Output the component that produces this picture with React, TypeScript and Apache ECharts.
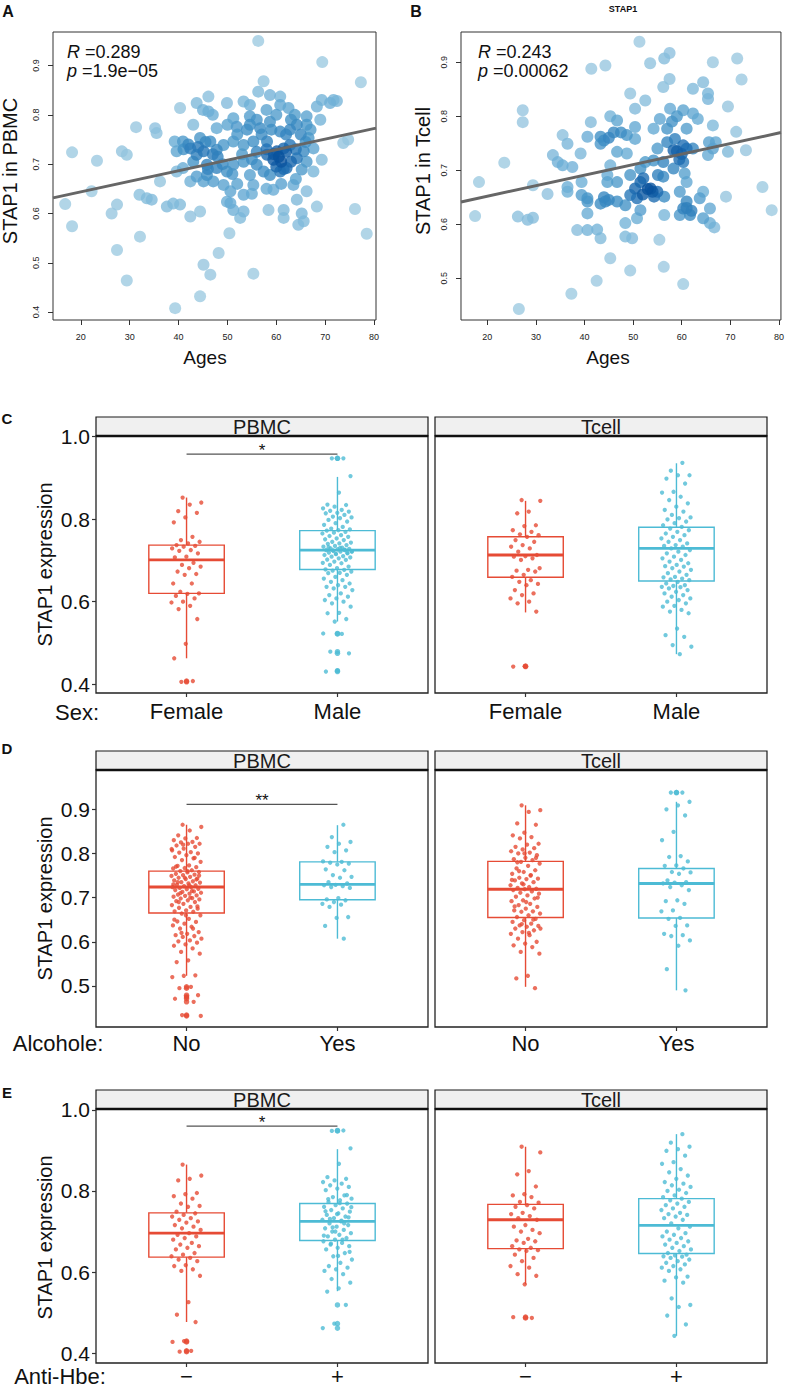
import React, { useEffect, useRef } from "react";
import * as echarts from "echarts";

const FONT = "'Liberation Sans', Arial, Helvetica, sans-serif";
const RED = "#E64B35";
const CYAN = "#4DBBD5";

// ---------- Panel A: STAP1 in PBMC vs age ----------
const pbmcAgePoints: [number, number][] = [
  [56.3,0.950],[69.4,0.907],[77.3,0.866],[57.4,0.868],[56.3,0.847],[58.7,0.840],[60.8,0.837],[49.9,0.824],[53.3,0.827],[46.1,0.837],
  [43.7,0.824],[40.3,0.814],[46.1,0.807],[69.3,0.830],[71.7,0.830],[72.4,0.828],[68.3,0.817],[62.5,0.814],[63.8,0.800],[66.2,0.797],
  [54.6,0.797],[51.2,0.793],[51.9,0.776],[54.6,0.780],[56.7,0.773],[58.7,0.786],[60.8,0.766],[64.2,0.780],[66.2,0.780],[47.8,0.773],
  [43.0,0.780],[31.3,0.775],[35.2,0.773],[35.5,0.763],[44.4,0.753],[46.5,0.746],[49.2,0.739],[40.9,0.746],[39.2,0.746],[39.6,0.726],
  [42.4,0.732],[45.1,0.726],[47.8,0.729],[43.7,0.719],[51.2,0.746],[53.3,0.739],[55.3,0.746],[58.1,0.746],[60.1,0.726],[61.5,0.732],
  [62.8,0.739],[65.6,0.726],[67.6,0.732],[66.6,0.753],[73.7,0.743],[74.7,0.750],[69.3,0.709],[66.2,0.705],[64.2,0.712],[62.1,0.692],
  [59.4,0.709],[58.1,0.719],[56.0,0.699],[57.4,0.685],[60.8,0.685],[58.7,0.678],[65.2,0.689],[67.6,0.685],[63.5,0.658],[66.2,0.645],
  [64.2,0.628],[68.3,0.614],[65.2,0.600],[61.5,0.607],[61.5,0.591],[64.5,0.577],[65.6,0.584],[58.4,0.607],[59.4,0.648],[55.3,0.658],
  [53.3,0.638],[50.6,0.645],[49.2,0.658],[47.1,0.665],[45.1,0.665],[49.9,0.624],[51.2,0.607],[53.3,0.604],[52.6,0.591],[50.6,0.621],
  [47.8,0.692],[49.9,0.685],[51.2,0.699],[53.3,0.705],[45.8,0.699],[40.9,0.692],[39.6,0.685],[42.4,0.665],[36.2,0.665],[32.0,0.638],
  [33.5,0.631],[34.5,0.628],[37.6,0.614],[40.3,0.618],[42.4,0.594],[44.4,0.604],[38.9,0.620],[27.4,0.618],[26.3,0.600],[22.2,0.645],
  [23.3,0.707],[18.2,0.724],[28.4,0.726],[29.4,0.719],[16.8,0.619],[18.2,0.574],[32.1,0.553],[27.4,0.526],[29.4,0.464],[45.1,0.496],
  [46.5,0.476],[48.2,0.520],[44.4,0.432],[39.3,0.408],[55.3,0.478],[50.4,0.560],[76.1,0.609],[78.5,0.559],[54.6,0.820],[60.8,0.820],
  [62.8,0.770],[54.6,0.678],[43.7,0.675],[45.8,0.678],[71.0,0.824],
  [44.0,0.735],[45.5,0.745],[47.0,0.720],[48.0,0.715],[41.0,0.730],[42.0,0.740],[60.5,0.715],[61.0,0.705],[62.0,0.725],[59.5,0.720],
  [60.0,0.695],[61.5,0.690],[58.0,0.730],[56.0,0.725],[52.0,0.760],[54.0,0.770],[56.0,0.790],[58.0,0.810],[60.0,0.800],[63.0,0.790],
  [65.0,0.760],[66.0,0.745],[50.0,0.780],[47.0,0.800],[45.0,0.810],[53.0,0.720],[55.0,0.710],[57.0,0.760],[59.0,0.770],[64.0,0.730],
  [63.0,0.705],[49.0,0.700],[51.0,0.680],[46.0,0.690],[43.0,0.705],[61.0,0.660],[58.0,0.650],[55.0,0.640],[52.0,0.660],[64.0,0.670],
  [67.0,0.770],[69.0,0.790],[62.0,0.760],
];
const pbmcFit = { intercept: 0.601, slope: 0.00214 };
const pbmcCorr = { r: "0.289", p: "1.9e\u221205" };

// ---------- Panel B: STAP1 in Tcell vs age ----------
const tcellAgePoints: [number, number][] = [
  [51.3,0.938],[56.4,0.907],[57.5,0.917],[53.5,0.898],[66.4,0.900],[71.4,0.907],[72.3,0.868],[41.4,0.888],[44.3,0.894],[57.5,0.869],
  [56.2,0.854],[64.4,0.863],[62.3,0.851],[65.4,0.842],[65.4,0.832],[49.4,0.842],[52.5,0.829],[50.4,0.814],[27.3,0.811],[27.3,0.789],
  [41.3,0.789],[69.5,0.818],[71.2,0.771],[73.2,0.737],[45.3,0.800],[46.7,0.792],[43.3,0.762],[43.3,0.749],[40.6,0.762],[39.2,0.731],
  [35.5,0.765],[36.5,0.749],[33.5,0.728],[34.5,0.715],[35.5,0.709],[37.5,0.706],[23.5,0.714],[18.3,0.678],[17.5,0.615],[29.4,0.672],
  [32.4,0.656],[36.5,0.669],[36.5,0.660],[39.4,0.678],[39.4,0.654],[40.6,0.648],[40.6,0.620],[26.3,0.614],[28.3,0.608],[29.4,0.612],
  [38.5,0.589],[40.6,0.589],[42.6,0.590],[43.3,0.574],[45.3,0.537],[42.5,0.495],[37.3,0.471],[26.5,0.443],[49.4,0.514],[56.3,0.521],
  [60.3,0.489],[55.4,0.571],[48.4,0.577],[49.8,0.574],[48.4,0.602],[50.8,0.611],[51.5,0.626],[56.4,0.617],[49.4,0.654],[50.8,0.648],
  [44.3,0.642],[46.7,0.642],[48.4,0.635],[53.6,0.666],[55.0,0.660],[54.3,0.651],[56.4,0.651],[51.5,0.678],[52.1,0.685],[49.4,0.691],
  [45.3,0.709],[44.7,0.678],[46.7,0.678],[46.7,0.734],[48.7,0.731],[50.4,0.758],[50.4,0.780],[48.7,0.765],[54.2,0.777],[55.5,0.795],
  [57.6,0.814],[60.3,0.811],[61.0,0.777],[62.3,0.805],[63.3,0.795],[66.4,0.783],[58.6,0.758],[60.3,0.746],[58.3,0.737],[57.0,0.752],
  [55.0,0.740],[54.2,0.718],[52.5,0.715],[56.2,0.715],[60.3,0.715],[58.3,0.703],[60.6,0.694],[61.0,0.678],[59.6,0.660],[62.3,0.740],
  [65.6,0.752],[67.0,0.752],[65.4,0.728],[69.5,0.734],[66.4,0.740],[69.1,0.651],[76.6,0.669],[78.5,0.626],[64.4,0.660],[63.7,0.648],
  [65.8,0.629],[61.0,0.642],[60.3,0.629],[61.7,0.617],[59.6,0.617],[64.4,0.611],[65.8,0.602],[66.7,0.594],[43.3,0.638],[40.6,0.642],
  [56.2,0.688],[44.7,0.691],[57.0,0.777],[51.5,0.703],[50.4,0.666],[55.1,0.691],
  [44.0,0.755],[45.0,0.760],[46.0,0.770],[47.5,0.770],[52.0,0.655],[53.0,0.665],[54.0,0.660],[59.0,0.735],[60.0,0.730],[61.0,0.740],
  [59.5,0.720],[44.0,0.650],[45.0,0.645],[62.0,0.625],[61.0,0.630],[58.0,0.790],[59.0,0.800],
];
const tcellFit = { intercept: 0.6127, slope: 0.001953 };
const tcellCorr = { r: "0.243", p: "0.00062" };

const ageTicks = [20, 30, 40, 50, 60, 70, 80];
const scatterYTicks = [0.4, 0.5, 0.6, 0.7, 0.8, 0.9];

// ---------- Panel C: Sex ----------
const sexGroups = ["Female", "Male"];
const sexPbmcFemale = [0.852,0.840,0.835,0.819,0.815,0.804,0.792,0.757,0.749,0.745,0.741,0.737,0.735,0.733,0.729,0.725,0.723,0.717,0.709,0.707,0.694,0.689,0.685,0.681,0.673,0.667,0.665,0.644,0.644,0.624,0.620,0.619,0.614,0.608,0.600,0.598,0.590,0.582,0.558,0.498,0.463,0.408,0.406];
const sexPbmcMale = [0.947,0.947,0.904,0.864,0.835,0.834,0.830,0.826,0.822,0.820,0.818,0.815,0.814,0.810,0.806,0.804,0.802,0.798,0.794,0.790,0.786,0.781,0.777,0.775,0.773,0.772,0.769,0.767,0.765,0.761,0.759,0.757,0.753,0.751,0.749,0.745,0.743,0.741,0.740,0.737,0.735,0.733,0.731,0.729,0.728,0.727,0.725,0.725,0.723,0.721,0.721,0.719,0.717,0.715,0.713,0.710,0.709,0.707,0.705,0.702,0.701,0.697,0.694,0.693,0.689,0.685,0.681,0.678,0.677,0.675,0.673,0.670,0.669,0.665,0.660,0.656,0.652,0.648,0.644,0.640,0.636,0.636,0.632,0.628,0.620,0.616,0.612,0.608,0.604,0.600,0.596,0.588,0.573,0.572,0.558,0.552,0.523,0.522,0.479,0.475,0.433,0.431,0.726,0.724,0.722,0.730,0.732,0.718,0.716];
const sexTcellFemale = [0.846,0.844,0.818,0.814,0.785,0.783,0.773,0.769,0.763,0.761,0.757,0.749,0.745,0.737,0.733,0.729,0.721,0.713,0.710,0.709,0.705,0.701,0.681,0.677,0.675,0.673,0.665,0.660,0.652,0.648,0.643,0.640,0.628,0.620,0.616,0.608,0.600,0.596,0.576,0.444,0.443];
const sexTcellMale = [0.936,0.917,0.906,0.906,0.898,0.886,0.866,0.864,0.854,0.846,0.838,0.830,0.822,0.818,0.810,0.804,0.802,0.799,0.794,0.790,0.785,0.781,0.777,0.773,0.769,0.765,0.761,0.757,0.753,0.749,0.745,0.741,0.737,0.735,0.733,0.729,0.725,0.721,0.717,0.713,0.709,0.705,0.701,0.697,0.693,0.689,0.686,0.685,0.681,0.677,0.673,0.669,0.665,0.660,0.659,0.656,0.654,0.652,0.648,0.644,0.640,0.638,0.636,0.635,0.632,0.628,0.624,0.620,0.616,0.612,0.608,0.604,0.600,0.596,0.590,0.588,0.580,0.576,0.572,0.535,0.519,0.515,0.495,0.491,0.473];
// [lower whisker, Q1, median, Q3, upper whisker]
const sexPbmcBox = [[0.463,0.620,0.701,0.737,0.852],[0.552,0.678,0.725,0.772,0.902]];
const sexTcellBox = [[0.574,0.659,0.713,0.757,0.844],[0.473,0.650,0.729,0.780,0.935]];

// ---------- Panel D: Alcohol ----------
const alcGroups = ["No", "Yes"];
const alcPbmcNo = [0.865,0.860,0.852,0.841,0.835,0.834,0.830,0.826,0.825,0.822,0.822,0.818,0.815,0.811,0.807,0.803,0.802,0.800,0.796,0.792,0.789,0.785,0.781,0.773,0.772,0.769,0.767,0.766,0.762,0.760,0.758,0.757,0.754,0.752,0.751,0.749,0.747,0.745,0.743,0.742,0.739,0.737,0.735,0.734,0.732,0.729,0.728,0.726,0.724,0.724,0.722,0.720,0.719,0.717,0.714,0.713,0.711,0.709,0.707,0.705,0.704,0.702,0.699,0.698,0.696,0.694,0.692,0.690,0.686,0.683,0.679,0.677,0.675,0.671,0.669,0.668,0.664,0.660,0.652,0.646,0.645,0.641,0.637,0.634,0.630,0.622,0.618,0.615,0.613,0.611,0.607,0.603,0.601,0.598,0.594,0.591,0.585,0.577,0.573,0.558,0.554,0.524,0.523,0.520,0.498,0.495,0.479,0.475,0.471,0.464,0.434,0.432,0.728,0.735,0.741,0.745,0.730,0.715,0.710,0.750,0.760,0.770,0.790,0.820,0.810,0.700,0.690,0.680,0.660,0.650,0.630,0.620];
const alcPbmcYes = [0.865,0.837,0.826,0.822,0.815,0.807,0.803,0.782,0.781,0.779,0.777,0.775,0.764,0.762,0.751,0.747,0.745,0.735,0.732,0.729,0.728,0.726,0.724,0.722,0.699,0.696,0.694,0.690,0.686,0.684,0.679,0.656,0.654,0.636,0.607];
const alcTcellNo = [0.909,0.898,0.894,0.868,0.865,0.847,0.841,0.837,0.834,0.822,0.820,0.815,0.812,0.809,0.805,0.802,0.800,0.796,0.790,0.787,0.785,0.781,0.777,0.772,0.766,0.762,0.758,0.754,0.751,0.745,0.743,0.742,0.739,0.735,0.732,0.728,0.724,0.722,0.720,0.719,0.717,0.714,0.711,0.709,0.705,0.702,0.698,0.694,0.692,0.686,0.683,0.679,0.675,0.671,0.669,0.668,0.664,0.660,0.656,0.652,0.649,0.645,0.641,0.637,0.636,0.634,0.630,0.626,0.622,0.618,0.615,0.607,0.600,0.596,0.592,0.588,0.577,0.573,0.523,0.517,0.495,0.730,0.740,0.750,0.760,0.700,0.690,0.680,0.650,0.640,0.630,0.620,0.780,0.790,0.800];
const alcTcellYes = [0.938,0.938,0.917,0.909,0.900,0.886,0.849,0.830,0.794,0.792,0.782,0.773,0.772,0.766,0.758,0.757,0.754,0.739,0.735,0.734,0.732,0.728,0.724,0.717,0.694,0.692,0.686,0.671,0.669,0.654,0.652,0.637,0.636,0.618,0.615,0.613,0.603,0.591,0.538,0.490];
const alcPbmcBox = [[0.523,0.665,0.724,0.760,0.865],[0.607,0.695,0.730,0.781,0.864]];
const alcTcellBox = [[0.498,0.655,0.719,0.782,0.909],[0.490,0.654,0.732,0.766,0.917]];

// ---------- Panel E: Anti-Hbe ----------
const hbeGroups = ["\u2212", "+"];
const hbePbmcNeg = [0.865,0.838,0.830,0.826,0.795,0.792,0.787,0.781,0.769,0.763,0.761,0.749,0.745,0.741,0.737,0.733,0.729,0.725,0.722,0.716,0.712,0.708,0.704,0.696,0.692,0.688,0.684,0.680,0.672,0.668,0.664,0.660,0.656,0.647,0.643,0.639,0.635,0.631,0.627,0.617,0.615,0.607,0.603,0.591,0.526,0.495,0.477,0.430,0.428,0.406,0.404];
const hbePbmcPos = [0.949,0.948,0.905,0.867,0.834,0.830,0.826,0.822,0.818,0.814,0.810,0.806,0.802,0.789,0.785,0.781,0.777,0.773,0.769,0.765,0.761,0.757,0.753,0.749,0.745,0.741,0.737,0.733,0.729,0.725,0.720,0.716,0.712,0.708,0.704,0.700,0.696,0.692,0.688,0.684,0.680,0.676,0.672,0.668,0.664,0.660,0.656,0.647,0.639,0.631,0.623,0.615,0.611,0.607,0.603,0.595,0.583,0.574,0.560,0.552,0.519,0.473,0.462,0.727,0.731,0.735,0.743,0.750,0.720,0.710,0.760,0.770,0.780,0.790,0.700,0.690,0.680,0.670,0.650,0.640];
const hbeTcellNeg = [0.909,0.895,0.849,0.841,0.811,0.792,0.789,0.785,0.773,0.771,0.765,0.761,0.757,0.746,0.743,0.738,0.733,0.729,0.716,0.712,0.704,0.700,0.696,0.682,0.678,0.676,0.672,0.664,0.660,0.656,0.654,0.652,0.643,0.635,0.627,0.615,0.611,0.595,0.591,0.570,0.489,0.487];
const hbeTcellPos = [0.940,0.919,0.909,0.903,0.899,0.887,0.871,0.867,0.854,0.846,0.838,0.830,0.822,0.818,0.814,0.810,0.803,0.800,0.795,0.789,0.785,0.781,0.777,0.773,0.769,0.765,0.761,0.757,0.753,0.746,0.743,0.741,0.737,0.733,0.729,0.720,0.712,0.708,0.700,0.696,0.692,0.688,0.684,0.680,0.676,0.672,0.668,0.664,0.660,0.656,0.652,0.647,0.643,0.641,0.639,0.638,0.635,0.631,0.627,0.623,0.619,0.615,0.611,0.607,0.603,0.589,0.587,0.579,0.574,0.535,0.519,0.514,0.493,0.471,0.443];
const hbePbmcBox = [[0.477,0.637,0.696,0.746,0.865],[0.553,0.678,0.725,0.769,0.903]];
const hbeTcellBox = [[0.570,0.658,0.729,0.767,0.909],[0.443,0.646,0.715,0.781,0.940]];

const ticksC = [0.4, 0.6, 0.8, 1.0];
const ticksD = [0.5, 0.6, 0.7, 0.8, 0.9];
const ticksE = [0.4, 0.6, 0.8, 1.0];
const sigC = { y: 0.957, label: "*" };
const sigD = { y: 0.911, label: "**" };
const sigE = { y: 0.960, label: "*" };

// ---------- helpers ----------
const BLUES = [[158,202,225],[107,174,214],[66,146,198],[33,113,181],[8,81,156]];
function densityColored(pts: [number, number][], bx: number, by: number) {
  const d = pts.map(([x, y]) =>
    pts.reduce((s, [u, v]) => s + Math.exp(-0.5 * (((x - u) / bx) ** 2 + ((y - v) / by) ** 2)), 0));
  const mx = Math.max(...d), mn = Math.min(...d);
  const items = pts.map((p, i) => {
    const t = Math.pow((d[i] - mn) / (mx - mn), 1.25) * (BLUES.length - 1);
    const k = Math.min(Math.floor(t), BLUES.length - 2);
    const f = t - k;
    const c = BLUES[k].map((a, j) => Math.round(a + (BLUES[k + 1][j] - a) * f));
    return { value: p, dens: d[i], itemStyle: { color: `rgb(${c.join(",")})` } };
  });
  items.sort((a, b) => a.dens - b.dens);
  return items.map(({ value, itemStyle }) => ({ value, itemStyle }));
}
const jitter = (i: number) => ((((i * 0.6180339887) + 0.37) % 1) - 0.5) * 0.2;

function boxRender(params: any, api: any) {
  const x = api.value(0);
  const color = x < 1.5 ? RED : CYAN;
  const lo = api.coord([x, api.value(1)]);
  const q1 = api.coord([x, api.value(2)]);
  const md = api.coord([x, api.value(3)]);
  const q3 = api.coord([x, api.value(4)]);
  const hi = api.coord([x, api.value(5)]);
  const hw = api.size([0.25, 0])[0];
  const st = { stroke: color, lineWidth: 1.4 };
  return {
    type: "group",
    children: [
      { type: "line", shape: { x1: lo[0], y1: lo[1], x2: q1[0], y2: q1[1] }, style: st },
      { type: "line", shape: { x1: q3[0], y1: q3[1], x2: hi[0], y2: hi[1] }, style: st },
      { type: "rect", shape: { x: q3[0] - hw, y: q3[1], width: 2 * hw, height: q1[1] - q3[1] }, style: { stroke: color, lineWidth: 1.4, fill: "#fff" } },
      { type: "line", shape: { x1: md[0] - hw, y1: md[1], x2: md[0] + hw, y2: md[1] }, style: { stroke: color, lineWidth: 2.8 } },
    ],
  };
}

function buildOption() {
  const grid: any[] = [];
  const xAxis: any[] = [];
  const yAxis: any[] = [];
  const series: any[] = [];
  const graphic: any[] = [];

  const txt = (x: number, y: number, text: string, size: number, extra: any = {}, rot = 0) =>
    graphic.push({
      type: "text", x, y, rotation: rot, silent: true,
      style: { text, fontSize: size, fontFamily: FONT, fill: "#111", align: "center", verticalAlign: "middle", ...extra },
    });

  // ----- scatter panels -----
  const scatterPanels = [
    { left: 53, top: 32, width: 323, height: 288, xr: [14.3, 80.4], yr: [0.384, 0.968], pts: pbmcAgePoints, fit: pbmcFit, corr: pbmcCorr, title: "STAP1 in PBMC", titleX: 10, agesX: 205, corrX: 67 },
    { left: 461, top: 32, width: 322, height: 288, xr: [14.6, 80.4], yr: [0.4225, 0.956], pts: tcellAgePoints, fit: tcellFit, corr: tcellCorr, title: "STAP1 in Tcell", titleX: 423, agesX: 608, corrX: 478 },
  ];
  scatterPanels.forEach((p, gi) => {
    grid.push({ left: p.left, top: p.top, width: p.width, height: p.height, show: true, borderColor: "#333", borderWidth: 1, backgroundColor: "transparent" });
    xAxis.push({
      type: "value", gridIndex: gi, min: p.xr[0], max: p.xr[1],
      axisLine: { show: false }, splitLine: { show: false },
      axisTick: { show: true, customValues: ageTicks, length: 5, lineStyle: { color: "#333" } },
      axisLabel: { customValues: ageTicks, fontSize: 9, color: "#222", margin: 12, fontFamily: FONT },
    });
    yAxis.push({
      type: "value", gridIndex: gi, min: p.yr[0], max: p.yr[1],
      axisLine: { show: false }, splitLine: { show: false },
      axisTick: { show: true, customValues: scatterYTicks, length: 5, lineStyle: { color: "#333" } },
      axisLabel: { customValues: scatterYTicks, fontSize: 9, color: "#222", margin: 13, rotate: 90, fontFamily: FONT, formatter: (v: number) => v.toFixed(1) },
    });
    series.push({
      type: "scatter", xAxisIndex: gi, yAxisIndex: gi, symbolSize: 12, silent: true,
      data: densityColored(p.pts, 2.5, 0.02),
    });
    const f = (x: number) => p.fit.intercept + p.fit.slope * x;
    series.push({
      type: "line", xAxisIndex: gi, yAxisIndex: gi, symbol: "none", silent: true,
      lineStyle: { color: "#666", width: 3 },
      data: [[p.xr[0], f(p.xr[0])], [p.xr[1], f(p.xr[1])]],
    });
    graphic.push({
      type: "text", x: p.corrX, y: 52, silent: true,
      style: { text: `{i|R} =${p.corr.r}`, fontSize: 18, fontFamily: FONT, fill: "#111", align: "left", verticalAlign: "middle",
        rich: { i: { fontStyle: "italic", fontSize: 18, fontFamily: FONT } } },
    });
    graphic.push({
      type: "text", x: p.corrX, y: 71, silent: true,
      style: { text: `{i|p} =${p.corr.p}`, fontSize: 18, fontFamily: FONT, fill: "#111", align: "left", verticalAlign: "middle",
        rich: { i: { fontStyle: "italic", fontSize: 18, fontFamily: FONT } } },
    });
    txt(p.titleX, 171, p.title, 20, { lineHeight: 16 }, Math.PI / 2);
    txt(p.agesX, 357, "Ages", 19);
  });
  txt(8, 11, "A", 16, { fontWeight: "bold" });
  txt(416, 11, "B", 16, { fontWeight: "bold" });
  txt(623, 9, "STAP1", 9, { fontWeight: "bold" });

  // ----- box panels -----
  const rows = [
    { top: 436, yr: [0.379, 1.001], ticks: ticksC, cats: sexGroups, lab: "Sex:", labX: 77, labY: 712, letter: "C", letterY: 418, sig: sigC, margin: 7,
      facets: [{ name: "PBMC", groups: [sexPbmcFemale, sexPbmcMale], box: sexPbmcBox }, { name: "Tcell", groups: [sexTcellFemale, sexTcellMale], box: sexTcellBox }] },
    { top: 770, yr: [0.407, 0.989], ticks: ticksD, cats: alcGroups, lab: "Alcohole:", labX: 58, labY: 1043, letter: "D", letterY: 748, sig: sigD, margin: 5,
      facets: [{ name: "PBMC", groups: [alcPbmcNo, alcPbmcYes], box: alcPbmcBox }, { name: "Tcell", groups: [alcTcellNo, alcTcellYes], box: alcTcellBox }] },
    { top: 1109, yr: [0.376, 1.002], ticks: ticksE, cats: hbeGroups, lab: "Anti-Hbe:", labX: 60, labY: 1376, letter: "E", letterY: 1092, sig: sigE, margin: 2,
      facets: [{ name: "PBMC", groups: [hbePbmcNeg, hbePbmcPos], box: hbePbmcBox }, { name: "Tcell", groups: [hbeTcellNeg, hbeTcellPos], box: hbeTcellBox }] },
  ];
  const H = 257, W = 332;
  rows.forEach((row) => {
    row.facets.forEach((fc, fi) => {
      const gi = grid.length;
      const left = fi === 0 ? 96 : 435;
      grid.push({ left, top: row.top, width: W, height: H, show: true, borderColor: "#222", borderWidth: 1.3, backgroundColor: "transparent" });
      xAxis.push({
        type: "value", gridIndex: gi, min: 0.4, max: 2.6,
        axisLine: { show: false }, splitLine: { show: false },
        axisTick: { show: true, customValues: [1, 2], length: 4, lineStyle: { color: "#333", width: 1.2 } },
        axisLabel: { customValues: [1, 2], fontSize: 22, color: "#111", margin: row.margin, fontFamily: FONT, formatter: (v: number) => row.cats[Math.round(v) - 1] },
      });
      yAxis.push({
        type: "value", gridIndex: gi, min: row.yr[0], max: row.yr[1],
        axisLine: { show: false }, splitLine: { show: false },
        axisTick: { show: fi === 0, customValues: row.ticks, length: 4, lineStyle: { color: "#333", width: 1.2 } },
        axisLabel: { show: fi === 0, customValues: row.ticks, fontSize: 21, color: "#111", margin: 6, fontFamily: FONT, formatter: (v: number) => v.toFixed(1) },
      });
      series.push({
        type: "custom", xAxisIndex: gi, yAxisIndex: gi, silent: true, renderItem: boxRender,
        data: fc.box.map((b, k) => [k + 1, ...b]),
      });
      fc.groups.forEach((vals, k) => {
        const b = fc.box[k];
        const color = k === 0 ? RED : CYAN;
        series.push({
          type: "scatter", xAxisIndex: gi, yAxisIndex: gi, symbolSize: 5.5, silent: true,
          itemStyle: { color },
          data: vals.filter((v) => v < b[0] - 0.003 || v > b[4] + 0.003).map((v) => [k + 1, v]),
        });
        series.push({
          type: "scatter", xAxisIndex: gi, yAxisIndex: gi, symbolSize: 4.3, silent: true,
          itemStyle: { color },
          data: vals.map((v, i) => [k + 1 + jitter(i + k * 7), v]),
        });
      });
      if (fi === 0) {
        series.push({
          type: "custom", xAxisIndex: gi, yAxisIndex: gi, silent: true,
          data: [[1, 2, row.sig.y]],
          renderItem: (params: any, api: any) => {
            const a = api.coord([api.value(0), api.value(2)]);
            const c = api.coord([api.value(1), api.value(2)]);
            return {
              type: "group",
              children: [
                { type: "line", shape: { x1: a[0], y1: a[1], x2: c[0], y2: c[1] }, style: { stroke: "#555", lineWidth: 1.3 } },
                { type: "text", x: (a[0] + c[0]) / 2, y: a[1] + 5, style: { text: row.sig.label, fontSize: 17, fontFamily: FONT, fill: "#111", align: "center", verticalAlign: "bottom" } },
              ],
            };
          },
        });
      }
      // strip
      graphic.push({ type: "rect", silent: true, shape: { x: left, y: row.top - 19, width: W, height: 19 }, style: { fill: "#F0F0F0", stroke: "#1a1a1a", lineWidth: 1.2 } });
      graphic.push({ type: "line", silent: true, shape: { x1: left, y1: row.top, x2: left + W, y2: row.top }, style: { stroke: "#111", lineWidth: 2.6 } });
      txt(left + W / 2, row.top - 9, fc.name, 20, { fill: "#1a1a1a" });
    });
    txt(45, row.top + H / 2, "STAP1 expression", 20, { lineHeight: 18 }, Math.PI / 2);
    txt(row.labX, row.labY, row.lab, 22, { lineHeight: 20 });
    txt(7, row.letterY, row.letter, 15, { fontWeight: "bold" });
  });

  return { animation: false, backgroundColor: "#fff", grid, xAxis, yAxis, series, graphic };
}

export default function App() {
  const ref = useRef<HTMLDivElement>(null);
  useEffect(() => {
    document.body.style.margin = "0";
    const chart = echarts.init(ref.current!, null, { renderer: "svg" });
    chart.setOption(buildOption() as any);
    return () => chart.dispose();
  }, []);
  return <div ref={ref} style={{ width: 787, height: 1387 }} />;
}
